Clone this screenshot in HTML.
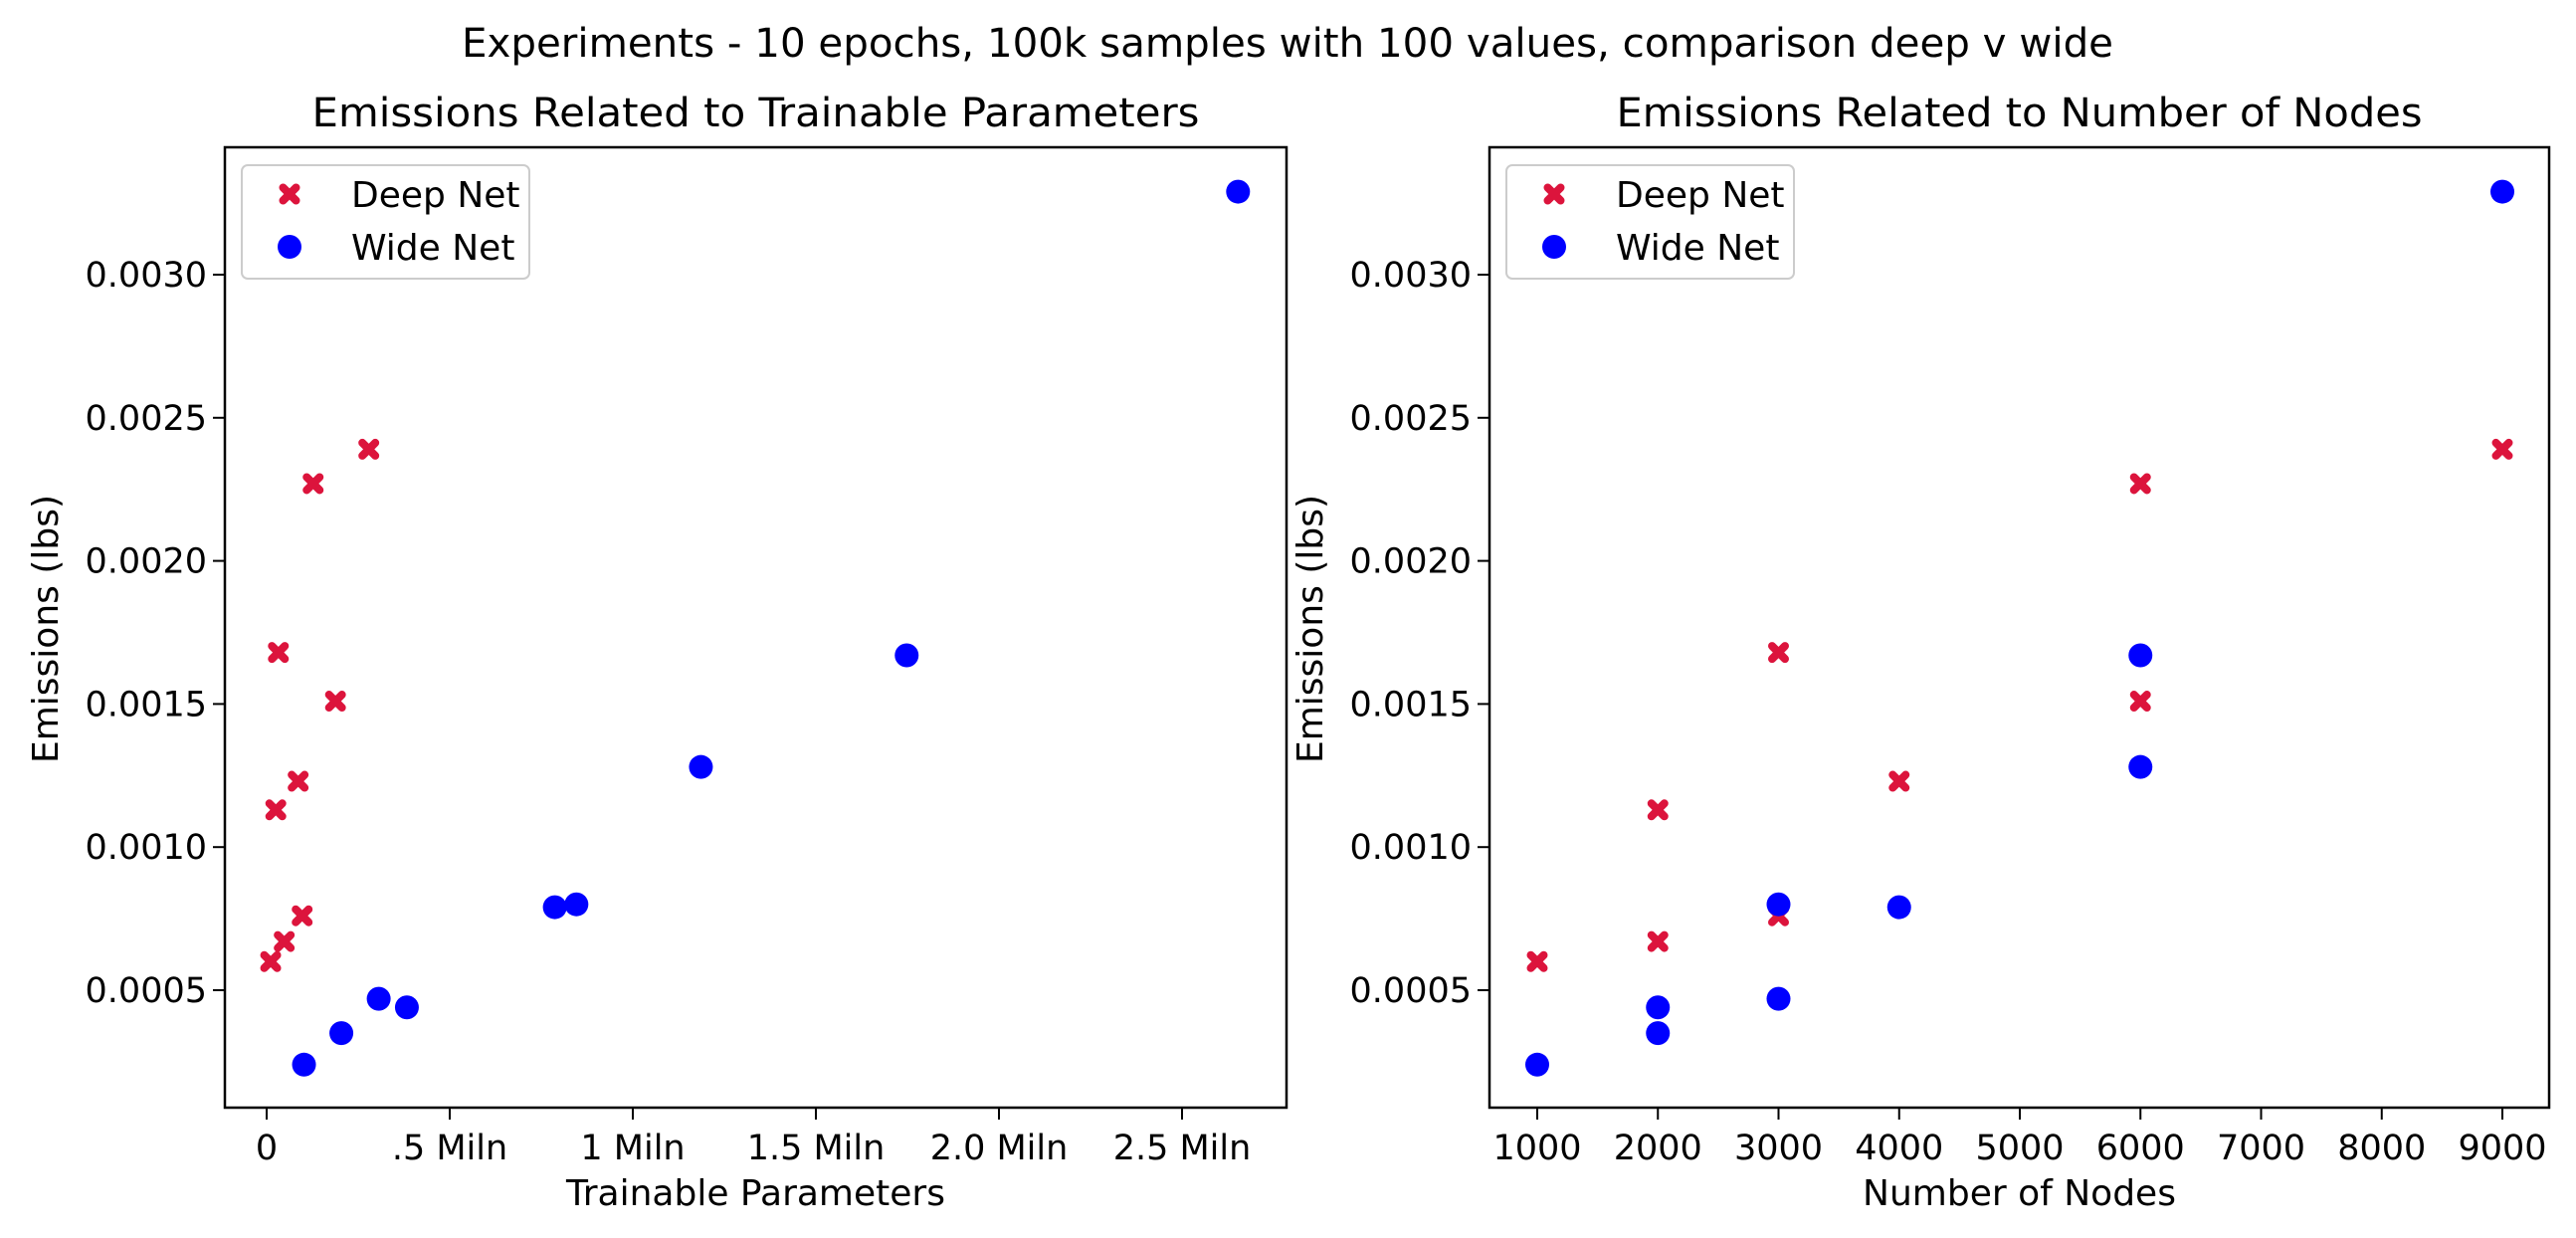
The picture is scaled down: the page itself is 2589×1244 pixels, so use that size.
<!DOCTYPE html>
<html><head><meta charset="utf-8"><style>
html,body{margin:0;padding:0;background:#fff;}
svg{display:block;font-family:"DejaVu Sans","Liberation Sans",sans-serif;}
</style></head><body>
<svg id="fig" width="2589" height="1244" viewBox="0 0 2589 1244" xmlns="http://www.w3.org/2000/svg">
<rect width="2589" height="1244" fill="#fff"/>
<text x="1294" y="57" text-anchor="middle" font-size="40" fill="#000" textLength="1660" lengthAdjust="spacingAndGlyphs">Experiments - 10 epochs, 100k samples with 100 values, comparison deep v wide</text>
<g id="left"></g>
<g id="right"></g>
</svg>
<script>
const deepParams = [0.011, 0.048, 0.097, 0.025, 0.086, 0.188, 0.032, 0.127, 0.279];
const deepEmissionsP = [0.00060, 0.00067, 0.00076, 0.00113, 0.00123, 0.00151, 0.00168, 0.00227, 0.00239];
const wideParams = [0.102, 0.204, 0.306, 0.383, 0.787, 0.846, 1.186, 1.748, 2.653];
const wideEmissionsP = [0.00024, 0.00035, 0.00047, 0.00044, 0.00079, 0.00080, 0.00128, 0.00167, 0.00329];
const deepNodes = [1000, 2000, 2000, 3000, 3000, 4000, 6000, 6000, 9000];
const deepEmissionsN = [0.00060, 0.00113, 0.00067, 0.00168, 0.00076, 0.00123, 0.00227, 0.00151, 0.00239];
const wideNodes = [1000, 2000, 2000, 3000, 3000, 4000, 6000, 6000, 9000];
const wideEmissionsN = [0.00024, 0.00044, 0.00035, 0.00080, 0.00047, 0.00079, 0.00167, 0.00128, 0.00329];
const yTicks = [0.0005, 0.0010, 0.0015, 0.0020, 0.0025, 0.0030];
const yTickLabels = ["0.0005", "0.0010", "0.0015", "0.0020", "0.0025", "0.0030"];
const xTicksP = [0, 0.5, 1, 1.5, 2, 2.5];
const xTickLabelsP = ["0", ".5 Miln", "1 Miln", "1.5 Miln", "2.0 Miln", "2.5 Miln"];
const xTicksN = [1000, 2000, 3000, 4000, 5000, 6000, 7000, 8000, 9000];
const xTickLabelsN = ["1000", "2000", "3000", "4000", "5000", "6000", "7000", "8000", "9000"];

const NS = "http://www.w3.org/2000/svg";
function mk(tag, attrs, parent) {
  const e = document.createElementNS(NS, tag);
  for (const k in attrs) e.setAttribute(k, attrs[k]);
  parent.appendChild(e);
  return e;
}
const TOP = 148, BOT = 1113;
function yScale(v) { return 995 - (v - 0.0005) / 0.0005 * 143.8; }

function drawChart(g, cfg) {
  const L = cfg.left, R = cfg.right;
  const frame = mk('rect', {x: L, y: TOP, width: R - L, height: BOT - TOP, fill: 'none', stroke: '#000', 'stroke-width': 2.5}, g);
  
  
  const title = mk('text', {x: (L + R) / 2, y: 127, 'text-anchor': 'middle', 'font-size': 40, textLength: cfg.titleLen, lengthAdjust: 'spacingAndGlyphs'}, g);
  title.textContent = cfg.title;
  
  
  yTicks.forEach((t, i) => {
    const y = yScale(t);
    const tk = mk('line', {x1: L - 12, x2: L, y1: y, y2: y, stroke: '#000', 'stroke-width': 2}, g);
    
    
    const lb = mk('text', {x: L - 18, y: y + 12, 'text-anchor': 'end', 'font-size': 35}, g);
    lb.textContent = yTickLabels[i];
    
    
  });
  cfg.xTicks.forEach((t, i) => {
    const x = cfg.xs(t);
    const tk = mk('line', {x1: x, x2: x, y1: BOT, y2: BOT + 12, stroke: '#000', 'stroke-width': 2}, g);
    
    
    const lb = mk('text', {x: x, y: 1165, 'text-anchor': 'middle', 'font-size': 35}, g);
    lb.textContent = cfg.xLabels[i];
    
    
  });
  const xt = mk('text', {x: (L + R) / 2, y: 1211, 'text-anchor': 'middle', 'font-size': 36}, g);
  xt.textContent = cfg.xTitle;
  
  
  const yt = mk('text', {x: 0, y: 0, 'text-anchor': 'middle', 'font-size': 36, transform: `translate(${L - 168},632) rotate(-90)`}, g);
  yt.textContent = 'Emissions (lbs)';
  
  

  function cross(parent, x, y, s) {
    const d = `M${x-s},${y-s}L${x+s},${y+s}M${x+s},${y-s}L${x-s},${y+s}`;
    return mk('path', {d: d, fill: 'none', stroke: '#DC143C', 'stroke-width': 8, 'stroke-linecap': 'round'}, parent);
  }
  cfg.deepX.forEach((v, i) => {
    const p = cross(g, cfg.xs(v), yScale(cfg.deepY[i]), 6.5);
    
    
  });
  cfg.wideX.forEach((v, i) => {
    const c = mk('circle', {cx: cfg.xs(v), cy: yScale(cfg.wideY[i]), r: 12, fill: '#0000FF'}, g);
    
    
  });
  const lx = L + 17;
  const leg = mk('g', {}, g);
  
  
  mk('rect', {x: lx, y: 166, width: 289, height: 114, rx: 6, fill: '#fff', stroke: '#ccc', 'stroke-width': 2}, leg);
  const m1 = cross(leg, lx + 48, 195, 6.5);
  
  
  const t1 = mk('text', {x: lx + 110, y: 208, 'font-size': 36}, leg);
  t1.textContent = 'Deep Net';
  
  
  const m2 = mk('circle', {cx: lx + 48, cy: 248, r: 12, fill: '#0000FF'}, leg);
  
  
  const t2 = mk('text', {x: lx + 110, y: 261, 'font-size': 36}, leg);
  t2.textContent = 'Wide Net';
  
  
}

drawChart(document.getElementById('left'), {
  left: 226, right: 1293, title: 'Emissions Related to Trainable Parameters', titleLen: 892,
  xs: v => 268 + v / 0.5 * 184, xTicks: xTicksP, xLabels: xTickLabelsP, xTitle: 'Trainable Parameters',
  deepX: deepParams, deepY: deepEmissionsP, wideX: wideParams, wideY: wideEmissionsP
});
drawChart(document.getElementById('right'), {
  left: 1497, right: 2562, title: 'Emissions Related to Number of Nodes', titleLen: 810,
  xs: v => 1545 + (v - 1000) / 1000 * 121.25, xTicks: xTicksN, xLabels: xTickLabelsN, xTitle: 'Number of Nodes',
  deepX: deepNodes, deepY: deepEmissionsN, wideX: wideNodes, wideY: wideEmissionsN
});
</script>
</body></html>
